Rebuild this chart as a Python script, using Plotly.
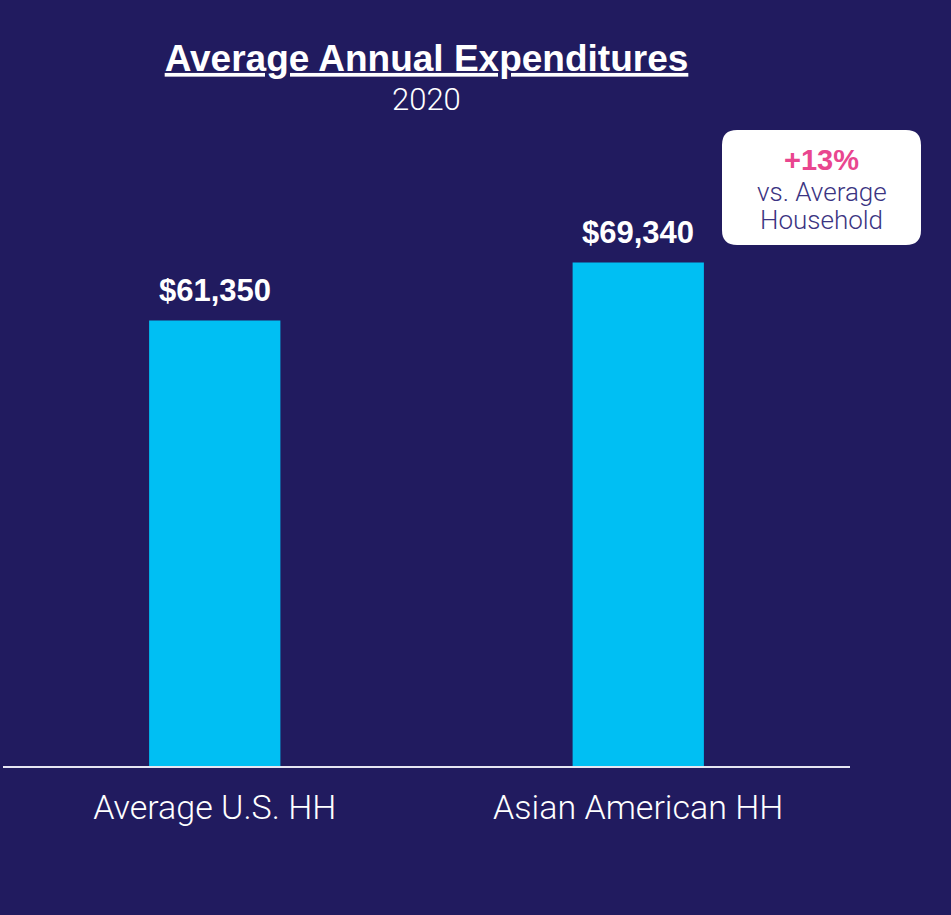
import plotly.graph_objects as go

categorias = ['Average U.S. HH', 'Asian American HH']
gastos = [61350, 69340]
rotulos = ['$61,350', '$69,340']
titulo = 'Average Annual Expenditures'
subtitulo = '2020'
destaque = '+13%'
destaque_linhas = ['vs. Average', 'Household']

fundo = '#211b5f'
ciano = '#00bff3'

# area do grafico em pixels: x 3..850, y 130..766
def px_x(x):
    return (x - 3) / 847

def px_y(y):
    return (766 - y) / 636

fig = go.Figure()
fig.add_trace(go.Bar(
    x=categorias,
    y=gastos,
    marker=dict(color=ciano, line=dict(width=0)),
    width=0.31,
    hoverinfo='skip',
))

# rotulos de valor acima das barras
for cat, val, txt in zip(categorias, gastos, rotulos):
    fig.add_annotation(
        x=cat, y=val, text=f'<b>{txt}</b>', showarrow=False,
        xanchor='center', yanchor='bottom', yshift=11,
        font=dict(family='Liberation Sans, Arial', size=31, color='white'),
    )

# subtitulo
fig.add_annotation(
    x=0.5, y=px_y(100), xref='paper', yref='paper', text=subtitulo,
    showarrow=False, xanchor='center', yanchor='middle',
    font=dict(family='Roboto', size=31, color='white', weight=300),
)

# caixa branca arredondada
x0, x1 = px_x(722), px_x(921)
y0, y1 = px_y(245), px_y(130)
rx, ry = 15 / 847, 15 / 636
path = (f'M {x0+rx},{y1} L {x1-rx},{y1} Q {x1},{y1} {x1},{y1-ry} '
        f'L {x1},{y0+ry} Q {x1},{y0} {x1-rx},{y0} L {x0+rx},{y0} '
        f'Q {x0},{y0} {x0},{y0+ry} L {x0},{y1-ry} Q {x0},{y1} {x0+rx},{y1} Z')
fig.add_shape(type='path', path=path, xref='paper', yref='paper',
              fillcolor='white', line=dict(width=0), layer='above')

cx = px_x(821.5)
fig.add_annotation(
    x=cx, y=px_y(160), xref='paper', yref='paper',
    text=f'<b>{destaque}</b>', showarrow=False, xanchor='center', yanchor='middle',
    font=dict(family='Liberation Sans, Arial', size=29, color='#e9468f'),
)
for linha, yy in zip(destaque_linhas, [192, 220]):
    fig.add_annotation(
        x=cx, y=px_y(yy), xref='paper', yref='paper',
        text=linha, showarrow=False, xanchor='center', yanchor='middle',
        font=dict(family='Roboto', size=26, color='#3b3482', weight=300),
    )

fig.update_layout(
    width=951, height=915,
    margin=dict(l=3, r=101, t=130, b=149),
    paper_bgcolor=fundo, plot_bgcolor=fundo,
    showlegend=False,
    title=dict(
        text=f'<b><u>{titulo}</u></b>',
        x=426.5 / 951, xanchor='center', y=1 - 58 / 915, yanchor='middle',
        font=dict(family='Liberation Sans, Arial', size=37, color='white'),
    ),
    xaxis=dict(
        showline=True, linecolor='#e6e6f2', linewidth=2,
        tickfont=dict(family='Roboto', size=34, color='white', weight=300),
        ticks='', ticklabelstandoff=10, showgrid=False,
        range=[-0.5, 1.5],
    ),
    yaxis=dict(visible=False, range=[0, 87600], showgrid=False),
)

fig.write_html('out.html', config={'displayModeBar': False},
               post_script="document.body.style.margin='0';")
